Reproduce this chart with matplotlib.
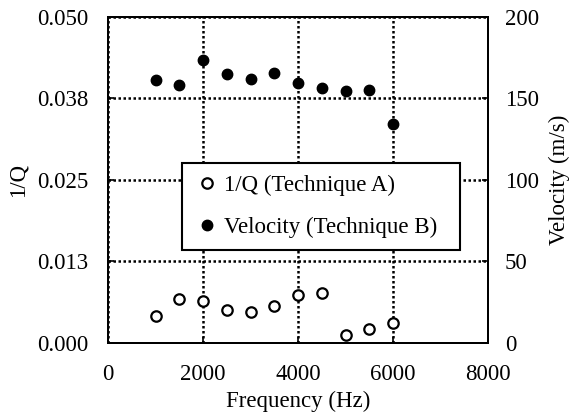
import matplotlib
matplotlib.use("Agg")
import matplotlib.pyplot as plt
from matplotlib.lines import Line2D

# Data
freq = [1000, 1500, 2000, 2500, 3000, 3500, 4000, 4500, 5000, 5500, 6000]
inv_q = [0.0041, 0.0068, 0.0065, 0.0050, 0.0047, 0.0056, 0.0073, 0.0076, 0.0012, 0.0021, 0.0030]
velocity = [161, 158, 173.5, 164.5, 162, 165.5, 159.5, 156.5, 154.5, 155, 134]

x_ticks = [0, 2000, 4000, 6000, 8000]
q_ticks = [0, 0.0125, 0.025, 0.0375, 0.05]
q_tick_labels = ["0.000", "0.013", "0.025", "0.038", "0.050"]
v_ticks = [0, 50, 100, 150, 200]

plt.rcParams['font.family'] = ['Liberation Serif', 'DejaVu Serif']
plt.rcParams['font.size'] = 16.5

fig = plt.figure(figsize=(5.73, 4.19), dpi=100)
ax = fig.add_axes([0.1885, 0.1814, 0.6632, 0.7792])
ax2 = ax.twinx()

ax.plot(freq, inv_q, linestyle='none', marker='o', markersize=7.5,
        markerfacecolor='white', markeredgecolor='black', markeredgewidth=1.6,
        zorder=5)
ax2.plot(freq, velocity, linestyle='none', marker='o', markersize=7.5,
         color='black', zorder=5)

ax.set_xlim(0, 8000)
ax.set_ylim(0, 0.05)
ax2.set_ylim(0, 200)
ax.set_xticks(x_ticks)
ax.set_yticks(q_ticks)
ax.set_yticklabels(q_tick_labels)
ax2.set_yticks(v_ticks)

ax.grid(True, color='black', linestyle=(0, (1, 1)), linewidth=1.8)
ax.set_axisbelow(True)

for a in (ax, ax2):
    for s in a.spines.values():
        s.set_linewidth(1.4)
        s.set_color('black')
    a.tick_params(direction='in', length=4, width=1.2, colors='black')
ax.tick_params(axis='y', pad=14)
ax2.tick_params(axis='y', pad=12)
ax.tick_params(axis='x', pad=15)

ax.set_xlabel("Frequency (Hz)", labelpad=4)
ax.set_ylabel("1/Q", labelpad=6)
ax2.set_ylabel("Velocity (m/s)", labelpad=7)

handles = [
    Line2D([], [], linestyle='none', marker='o', markersize=7.5,
           markerfacecolor='white', markeredgecolor='black', markeredgewidth=1.6),
    Line2D([], [], linestyle='none', marker='o', markersize=7.5, color='black'),
]
leg = ax2.legend(handles, ["1/Q (Technique A)", "Velocity (Technique B)"],
                 loc='upper left', bbox_to_anchor=(0.195, 0.291, 0.731, 0.26),
                 mode='expand', borderaxespad=0, frameon=True,
                 fancybox=False, framealpha=1, edgecolor='black',
                 handlelength=1.18, handletextpad=0.15, borderpad=0.5,
                 labelspacing=0.94, fontsize=16.5)
leg.get_frame().set_linewidth(1.5)

fig.savefig("out.png", dpi=100)
